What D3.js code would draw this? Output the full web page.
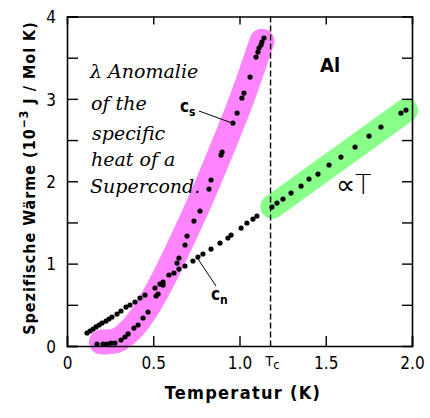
<!DOCTYPE html>
<html>
<head>
<meta charset="utf-8">
<script src="https://cdn.jsdelivr.net/npm/d3@7"></script>
<style>
  body { margin: 0; background: #fff; }
  text { fill: #000; }
</style>
</head>
<body>
<script>
// spezifische Waerme von Aluminium
const Tc = 1.18

// supraleitend (c_s), T in K, c in 1e-3 J/Mol K
const csT = [0.174, 0.209, 0.232, 0.255, 0.278, 0.313, 0.336, 0.354, 0.388, 0.412, 0.441, 0.470,
    0.516, 0.528, 0.557, 0.591, 0.638, 0.649, 0.684, 0.696, 0.736, 0.771, 0.823, 0.835,
    0.893, 0.899, 0.962, 0.986, 1.014, 1.026, 1.061, 1.096, 1.107, 1.113, 1.125, 1.130, 1.142]
const csC = [0.024, 0.024, 0.024, 0.036, 0.036, 0.073, 0.109, 0.146, 0.218, 0.255, 0.340, 0.413,
    0.607, 0.631, 0.740, 0.862, 1.007, 1.068, 1.226, 1.335, 1.517, 1.638, 1.905, 2.015,
    2.318, 2.354, 2.706, 2.828, 3.010, 3.070, 3.265, 3.507, 3.568, 3.617, 3.653, 3.689, 3.738]

// normalleitend unter Tc (c_n)
const cnT = [0.116, 0.133, 0.151, 0.168, 0.186, 0.203, 0.226, 0.243, 0.261, 0.290, 0.313, 0.342,
    0.365, 0.394, 0.423, 0.452, 0.510, 0.539, 0.557, 0.620, 0.649, 0.684, 0.730, 0.759,
    0.788, 0.835, 0.887, 0.933, 0.951, 1.009, 1.043, 1.078, 1.101]
const cnC = [0.158, 0.182, 0.206, 0.231, 0.255, 0.279, 0.303, 0.328, 0.352, 0.388, 0.425, 0.473,
    0.498, 0.534, 0.583, 0.619, 0.704, 0.752, 0.777, 0.886, 0.934, 0.971, 1.032, 1.080,
    1.117, 1.177, 1.250, 1.311, 1.347, 1.432, 1.493, 1.541, 1.578]

// ueber Tc
const hiT = [1.188, 1.217, 1.252, 1.299, 1.357, 1.403, 1.455, 1.519, 1.588, 1.670, 1.751, 1.820, 1.936, 1.965]
const hiC = [1.687, 1.735, 1.784, 1.857, 1.942, 2.027, 2.087, 2.197, 2.294, 2.415, 2.549, 2.658, 2.828, 2.864]

// Markierungen (Textmarker)
const pinkT = [0.20, 0.29, 0.38, 0.47, 0.56, 0.66, 0.78, 0.90, 1.01, 1.13]
const pinkC = [0.05, 0.07, 0.22, 0.48, 0.82, 1.25, 1.80, 2.40, 2.98, 3.70]
const greenT = [1.19, 1.965]
const greenC = [1.69, 2.86]

const xTicks = [0, 0.5, 1.0, 1.5, 2.0]
const xLabels = ['0', '0.5', '1.0', '1.5', '2.0']
const yTicks = [0, 0.5, 1, 1.5, 2, 2.5, 3, 3.5, 4]

const m = { width: 430, height: 418 }
const font = '"Liberation Sans Narrow", "DejaVu Sans Condensed", "Liberation Sans", sans-serif'

const svg = d3.select('body').append('svg')
    .attr('width', m.width)
    .attr('height', m.height)
    .style('font-family', font)

const x = d3.scaleLinear().domain([0, 2]).range([67, 412])
const y = d3.scaleLinear().domain([0, 4]).range([346, 16.5])

const zip = (a, b) => a.map((v, i) => [v, b[i]])

// Textmarker
const hl = d3.line().x(d => x(d[0])).y(d => y(d[1])).curve(d3.curveCatmullRom)
svg.append('path')
    .attr('d', hl(zip(pinkT, pinkC)))
    .attr('fill', 'none')
    .attr('stroke', '#ff85ff')
    .attr('stroke-width', 25)
    .attr('stroke-linecap', 'round')
    .attr('stroke-linejoin', 'round')
svg.append('path')
    .attr('d', hl(zip(greenT, greenC)))
    .attr('fill', 'none')
    .attr('stroke', '#88ff88')
    .attr('stroke-width', 24)
    .attr('stroke-linecap', 'round')

// Achsen
const axLeft = svg.append('g')
    .attr('transform', `translate(${x(0)},0)`)
    .call(d3.axisLeft(y).tickValues(yTicks).tickSize(-11).tickPadding(11)
        .tickFormat(d => Number.isInteger(d) ? d : ''))
const axRight = svg.append('g')
    .attr('transform', `translate(${x(2)},0)`)
    .call(d3.axisRight(y).tickValues(yTicks.slice(1, -1)).tickSize(-10).tickFormat(''))
const axBottom = svg.append('g')
    .attr('transform', `translate(0,${y(0)})`)
    .call(d3.axisBottom(x).tickValues(xTicks).tickSize(-10).tickPadding(10)
        .tickFormat((d, i) => xLabels[i]))
const axTop = svg.append('g')
    .attr('transform', `translate(0,${y(4)})`)
    .call(d3.axisTop(x).tickValues(xTicks.slice(1, -1)).tickSize(-8).tickFormat(''))

for (const a of [axLeft, axRight, axBottom, axTop]) {
    a.select('.domain').attr('stroke-width', 1.6)
    a.selectAll('.tick line').attr('stroke-width', 1.4)
    a.selectAll('text').style('font-size', '17px').style('font-family', font)
}
axLeft.selectAll('text').attr('dy', '0.36em')
axBottom.selectAll('text').attr('dy', '0.75em')

// Tc
svg.append('line')
    .attr('x1', x(Tc)).attr('x2', x(Tc))
    .attr('y1', y(4)).attr('y2', y(0))
    .attr('stroke', '#000')
    .attr('stroke-width', 1.4)
    .attr('stroke-dasharray', '6,3')
const tcLabel = svg.append('text')
    .attr('x', x(Tc) - 5).attr('y', 366)
    .style('font-size', '14px')
tcLabel.append('tspan').text('T')
tcLabel.append('tspan').attr('dy', 3).style('font-size', '13px').text('c')

// Messpunkte
const dots = zip(csT, csC).concat(zip(cnT, cnC), zip(hiT, hiC))
svg.selectAll('.dot')
    .data(dots)
    .enter()
    .append('circle')
        .attr('class', 'dot')
        .attr('cx', d => x(d[0]))
        .attr('cy', d => y(d[1]))
        .attr('r', 2.6)
        .attr('fill', '#000')

// Beschriftungen
svg.append('text')
    .attr('x', 243).attr('y', 399)
    .attr('text-anchor', 'middle')
    .style('font-size', '18px').style('font-weight', 'bold')
    .style('letter-spacing', '1.3px')
    .text('Temperatur  (K)')

const yt = svg.append('text')
    .attr('transform', 'translate(35,178) rotate(-90)')
    .attr('text-anchor', 'middle')
    .style('font-size', '16px').style('font-weight', 'bold')
    .style('letter-spacing', '1px')
yt.append('tspan').text('Spezifische  Wärme  (10')
yt.append('tspan').attr('dy', -7).style('font-size', '12px').text('−3')
yt.append('tspan').attr('dy', 7).text(' J / Mol K)')

svg.append('text')
    .attr('x', 330).attr('y', 72)
    .attr('text-anchor', 'middle')
    .style('font-size', '20px').style('font-weight', 'bold')
    .text('Al')

const cs = svg.append('text').attr('x', 180).attr('y', 112).style('font-size', '17px').style('font-weight', 'bold')
cs.append('tspan').text('c')
cs.append('tspan').attr('dy', 4).style('font-size', '12px').text('s')
svg.append('line').attr('x1', 199).attr('y1', 111).attr('x2', 232).attr('y2', 123)
    .attr('stroke', '#000').attr('stroke-width', 1)

const cn = svg.append('text').attr('x', 211).attr('y', 300).style('font-size', '17px').style('font-weight', 'bold')
cn.append('tspan').text('c')
cn.append('tspan').attr('dy', 4).style('font-size', '12px').text('n')
svg.append('line').attr('x1', 198).attr('y1', 259).attr('x2', 216).attr('y2', 286)
    .attr('stroke', '#000').attr('stroke-width', 1)

// handschriftliche Notiz
const note = ['λ Anomalie', 'of the', 'specific', 'heat of a', 'Supercond.']
const noteX = [90, 91, 92, 91, 90]
const noteY = [78, 110, 140, 166, 193]
svg.selectAll('.note')
    .data(note)
    .enter()
    .append('text')
        .attr('class', 'note')
        .attr('x', (d, i) => noteX[i])
        .attr('y', (d, i) => noteY[i])
        .style('font-family', '"DejaVu Serif", serif')
        .style('font-style', 'italic')
        .style('font-weight', '300')
        .style('font-size', '19px')
        .text(d => d)

svg.append('text')
    .attr('x', 336).attr('y', 194)
    .style('font-family', '"DejaVu Sans", sans-serif')
    .style('font-weight', '300')
    .style('font-size', '27px')
    .text('∝T')
</script>
</body>
</html>
